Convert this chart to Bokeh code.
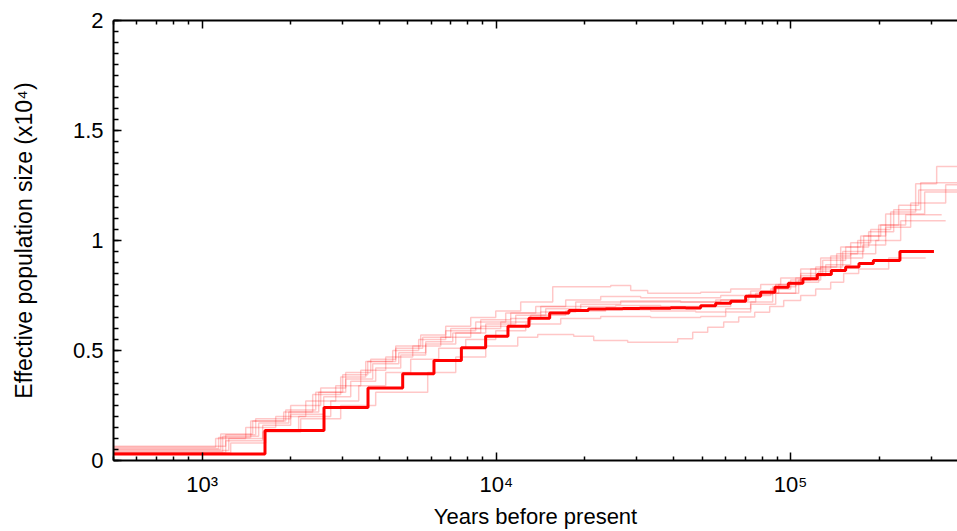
from bokeh.plotting import figure
from bokeh.models import LogAxis, FixedTicker, SingleIntervalTicker, CustomJSTickFormatter, Range1d
from bokeh.embed import file_html
from bokeh.resources import INLINE

# ---------------- data (years before present, Ne in units of 10^4) ----------------
main_t = [100, 1636, 2596, 3663, 4805, 6137, 7605, 9196, 10950, 12905, 15178, 17649, 20540,
          23515, 26870, 30690, 34780, 39110, 43980, 49450, 55630, 62550, 70340, 79100, 88450,
          98220, 110100, 123200, 137500, 153800, 170700, 191000, 235200, 306900]
main_ne = [0.030, 0.136, 0.241, 0.329, 0.394, 0.455, 0.512, 0.565, 0.610, 0.647, 0.671, 0.682,
           0.689, 0.690, 0.691, 0.692, 0.692, 0.694, 0.693, 0.703, 0.715, 0.724, 0.747, 0.765,
           0.788, 0.806, 0.826, 0.845, 0.864, 0.880, 0.895, 0.909, 0.950]

b1_t = [100, 1203, 1607, 2163, 2958, 3890, 5844, 7276, 9201, 11819, 13821, 18315, 21418, 27947,
        41326, 46472, 52259, 59223, 66598, 75483, 84882, 94703, 108180, 121651, 136799, 151438,
        170296, 215348, 287661]
b1_ne = [0.035, 0.09, 0.13, 0.19, 0.25, 0.31, 0.40, 0.47, 0.52, 0.56, 0.573, 0.565, 0.545, 0.538,
         0.553, 0.583, 0.606, 0.629, 0.652, 0.674, 0.70, 0.727, 0.75, 0.78, 0.81, 0.85, 0.87, 0.92]

b2_t = [100, 1203, 1521, 2000, 2530, 3076, 3741, 4550, 5533, 6728, 8182, 9950, 12099, 15542,
        24465, 28609, 32680, 49472, 62560, 79110, 92510, 108180, 126504, 147932, 172990, 202292,
        245994, 326020]
b2_ne = [0.065, 0.117, 0.19, 0.25, 0.33, 0.40, 0.46, 0.52, 0.57, 0.61, 0.65, 0.68, 0.72, 0.79,
         0.795, 0.773, 0.76, 0.765, 0.78, 0.80, 0.83, 0.87, 0.92, 0.97, 1.02, 1.07, 1.117]

b3_t = [100, 1138, 1463, 1894, 2376, 2958, 3598, 4444, 5446, 6728, 8508, 10759, 13606, 17205,
        22624, 30937, 45749, 57852, 73157, 88961, 108180, 131551, 159971, 194531, 236556, 336386]
b3_ne = [0.055, 0.105, 0.18, 0.22, 0.30, 0.38, 0.45, 0.50, 0.55, 0.59, 0.63, 0.67, 0.70, 0.73,
         0.745, 0.74, 0.74, 0.75, 0.77, 0.80, 0.84, 0.89, 0.94, 1.0, 1.09]

b4_t = [100, 1232, 1607, 2000, 2590, 3199, 3890, 4731, 5753, 7276, 9201, 11635, 14713, 19347,
        26456, 39122, 55632, 70350, 85548, 100000, 116984, 136799, 159971, 187068, 218754,
        266013, 313513, 430000]
b4_ne = [0.045, 0.10, 0.16, 0.21, 0.29, 0.36, 0.42, 0.48, 0.53, 0.58, 0.62, 0.66, 0.69, 0.71,
         0.72, 0.72, 0.73, 0.75, 0.78, 0.82, 0.87, 0.93, 0.99, 1.05, 1.13, 1.258, 1.336]

b5_t = [100, 1175, 1557, 1970, 2491, 3076, 3800, 4658, 5753, 7108, 8848, 11189, 14149, 18605,
        25441, 36178, 49472, 62560, 76075, 91069, 108180, 128503, 153834, 184154, 223939,
        276625, 430000]
b5_ne = [0.04, 0.11, 0.17, 0.22, 0.31, 0.37, 0.44, 0.49, 0.54, 0.58, 0.61, 0.645, 0.675, 0.70,
         0.705, 0.70, 0.70, 0.72, 0.76, 0.80, 0.85, 0.91, 0.97, 1.04, 1.14, 1.262]

b6_t = [100, 1112, 1407, 1779, 2250, 2845, 3460, 4207, 5197, 6470, 8182, 10347, 13084, 17205,
        23527, 33455, 47574, 60160, 73157, 86900, 104029, 124534, 147932, 175723, 210362,
        255807, 336386, 430000]
b6_ne = [0.06, 0.10, 0.15, 0.20, 0.27, 0.34, 0.41, 0.47, 0.52, 0.56, 0.60, 0.63, 0.66, 0.68,
         0.685, 0.68, 0.675, 0.69, 0.72, 0.76, 0.81, 0.86, 0.92, 0.98, 1.06, 1.17, 1.253]

b7_t = [100, 1157, 1486, 1924, 2433, 3005, 3655, 4550, 5620, 6997, 8848, 11189, 14149, 18605,
        26456, 42306, 57852, 72017, 86900, 104029, 121651, 143374, 168981, 199141, 232872,
        272317, 430000]
b7_ne = [0.05, 0.12, 0.18, 0.23, 0.31, 0.39, 0.45, 0.51, 0.56, 0.60, 0.64, 0.67, 0.70, 0.72,
         0.725, 0.72, 0.73, 0.755, 0.79, 0.83, 0.88, 0.94, 1.00, 1.07, 1.16, 1.23]

b8_t = [100, 1251, 1645, 2129, 2736, 3406, 4207, 5116, 6369, 7868, 9950, 12582, 16545, 22624,
        33455, 49472, 60160, 73157, 88961, 106494, 126504, 150269, 177090, 210362, 285422, 430000]
b8_ne = [0.035, 0.08, 0.14, 0.20, 0.27, 0.34, 0.40, 0.46, 0.51, 0.55, 0.59, 0.62, 0.645, 0.655,
         0.65, 0.655, 0.675, 0.71, 0.76, 0.82, 0.88, 0.95, 1.02, 1.12, 1.22]

bootstraps = [(b1_t, b1_ne), (b2_t, b2_ne), (b3_t, b3_ne), (b4_t, b4_ne),
              (b5_t, b5_ne), (b6_t, b6_ne), (b7_t, b7_ne), (b8_t, b8_ne)]

x_major = [1000, 10000, 100000]
x_minor = [500, 600, 700, 800, 900, 2000, 3000, 4000, 5000, 6000, 7000, 8000, 9000,
           20000, 30000, 40000, 50000, 60000, 70000, 80000, 90000, 200000, 300000]

FONT = "Liberation Sans"

p = figure(width=957, height=531, x_axis_type="log",
           x_range=Range1d(500, 369000), y_range=Range1d(0, 2),
           output_backend="svg", toolbar_location=None,
           min_border_left=113, min_border_right=0, min_border_top=20, min_border_bottom=71)
p.outline_line_color = None
p.grid.visible = False
p.background_fill_color = "white"
p.border_fill_color = "white"

for t, ne in bootstraps:
    p.step(x=t, y=list(ne) + [ne[-1]], mode="after", line_color="red",
           line_alpha=0.22, line_width=1.5)

p.step(x=main_t, y=list(main_ne) + [main_ne[-1]], mode="after",
       line_color="#ff0000", line_width=3)

xt = FixedTicker(ticks=x_major, minor_ticks=x_minor)
xfmt = CustomJSTickFormatter(code="""
const m = {3: '10\u00b3', 4: '10\u2074', 5: '10\u2075'};
const k = Math.round(Math.log10(tick));
return m[k] || '';
""")


def style_axis(ax, major_len, minor_len):
    ax.axis_line_width = 2
    ax.axis_line_color = "black"
    ax.major_tick_line_width = 1.5
    ax.minor_tick_line_width = 1.5
    ax.major_tick_in = major_len
    ax.major_tick_out = 0
    ax.minor_tick_in = minor_len
    ax.minor_tick_out = 0
    ax.major_label_text_font = FONT
    ax.major_label_text_font_size = "22px"
    ax.major_label_text_color = "black"
    ax.axis_label_text_font = FONT
    ax.axis_label_text_font_size = "22px"
    ax.axis_label_text_font_style = "normal"
    ax.axis_label_text_color = "black"


xa = p.xaxis[0]
xa.ticker = xt
xa.formatter = xfmt
style_axis(xa, 8, 4)
xa.major_label_standoff = 11
xa.axis_label = "Years before present"
xa.axis_label_standoff = 4

ya = p.yaxis[0]
ya.ticker = SingleIntervalTicker(interval=0.5, num_minor_ticks=10)
ya.formatter = CustomJSTickFormatter(code="return tick.toString();")
style_axis(ya, 8, 5)
ya.major_label_standoff = 10
ya.axis_label = "Effective population size (x10\u2074)"
ya.axis_label_text_font_size = "23px"
ya.axis_label_standoff = 33

top = LogAxis(ticker=FixedTicker(ticks=x_major, minor_ticks=x_minor),
              formatter=CustomJSTickFormatter(code="return '';"))
style_axis(top, 8, 4)
top.major_label_standoff = 0
top.major_label_text_font_size = "1px"
p.add_layout(top, "above")

open("out.html", "w").write(file_html(p, INLINE))
